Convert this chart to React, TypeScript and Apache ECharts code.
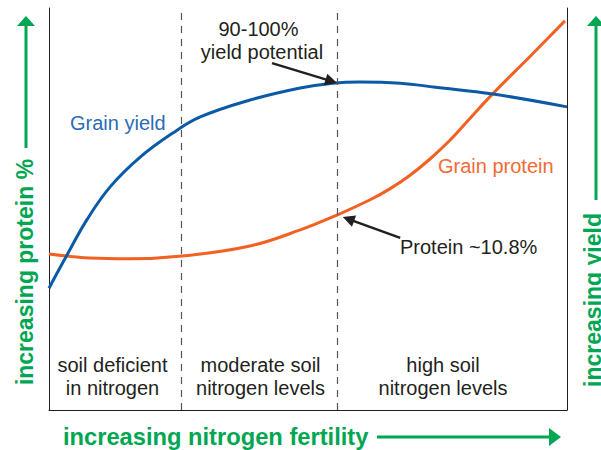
import React, { useEffect, useRef } from "react";
import * as echarts from "echarts";

// Nitrogen fertility (0-100, relative) and curve values (0-100, relative)
const yieldX = [0, 3.5, 7.3, 11.8, 17.6, 23.9, 29.2, 38.8, 48.5, 54.8, 60.0, 67.8, 74.6, 85.7, 100];
const yieldY = [30.3, 38.6, 47.3, 55.5, 62.9, 68.9, 72.9, 77.1, 80.1, 81.3, 81.6, 81.3, 80.3, 78.6, 75.4];

const proteinX = [0, 7.9, 15.6, 25.7, 38.8, 48.5, 55.6, 62.0, 65.8, 69.7, 73.6, 77.4, 81.3, 85.7, 92.9, 99.6];
const proteinY = [38.8, 37.8, 37.6, 38.3, 40.8, 44.8, 48.5, 52.3, 55.0, 58.4, 62.5, 67.1, 72.6, 78.7, 88.0, 96.8];

const zoneBoundaries = [25.6, 55.7];

// Annotation arrows: [from, to] in data units
const yieldArrow = [[43.05, 86.3], [54.5, 81.8]];
const proteinArrow = [[67.8, 42.8], [57.8, 47.5]];

const zoneLabels = [
  ["soil deficient", "in nitrogen"],
  ["moderate soil", "nitrogen levels"],
  ["high soil", "nitrogen levels"],
];
const seriesLabels = ["Grain yield", "Grain protein"];
const yieldNote = ["90-100%", "yield potential"];
const proteinNote = "Protein ~10.8%";
const axisTitles = {
  x: "increasing nitrogen fertility",
  left: "increasing protein %",
  right: "increasing yield",
};

const FONT = "'Liberation Sans', Arial, Helvetica, sans-serif";
const INK = "#231f20";
const GREEN = "#00a651";
const BLUE = "#0b5aa6";
const ORANGE = "#f26122";

export default function App() {
  const ref = useRef<HTMLDivElement>(null);

  useEffect(() => {
    if (!ref.current) return;
    const chart = echarts.init(ref.current, null, { renderer: "svg" });

    const txt = (text: string, x: number, y: number, opts: any = {}) => ({
      type: "text",
      x,
      y,
      rotation: opts.rotation || 0,
      silent: true,
      style: {
        text,
        fill: opts.fill || INK,
        font: `${opts.weight || "normal"} ${opts.size || 20}px ${FONT}`,
        textAlign: opts.align || "center",
        textVerticalAlign: "middle",
      },
    });

    const zoneCenters = [112.5, 260.5, 443];
    const graphics: any[] = [];
    zoneLabels.forEach((lines, i) => {
      graphics.push(txt(lines[0], zoneCenters[i], 365));
      graphics.push(txt(lines[1], zoneCenters[i], 388));
    });
    graphics.push(txt(seriesLabels[0], 70, 123, { fill: "#2a6cb6", align: "left" }));
    graphics.push(txt(seriesLabels[1], 438, 166, { fill: "#f26b35", align: "left" }));
    graphics.push(txt(yieldNote[0], 258.5, 29));
    graphics.push(txt(yieldNote[1], 262, 52));
    graphics.push(txt(proteinNote, 400, 247, { align: "left" }));

    // green axis titles and arrows
    graphics.push(txt(axisTitles.x, 63, 437, { fill: GREEN, weight: "bold", size: 23.7, align: "left" }));
    graphics.push(txt(axisTitles.left, 25, 272, { fill: GREEN, weight: "bold", size: 23, rotation: Math.PI / 2 }));
    graphics.push(txt(axisTitles.right, 593, 300, { fill: GREEN, weight: "bold", size: 23, rotation: Math.PI / 2 }));

    const greenLine = (x1: number, y1: number, x2: number, y2: number) => ({
      type: "line",
      silent: true,
      shape: { x1, y1, x2, y2 },
      style: { stroke: GREEN, lineWidth: 3 },
    });
    const greenHead = (points: number[][]) => ({
      type: "polygon",
      silent: true,
      shape: { points },
      style: { fill: GREEN },
    });
    graphics.push(greenLine(377, 437, 551, 437));
    graphics.push(greenHead([[549, 428], [561, 437], [549, 446]]));
    graphics.push(greenLine(26, 24, 26, 148));
    graphics.push(greenHead([[17, 26], [26, 16], [35, 26]]));
    graphics.push(greenLine(596, 24, 596, 200));
    graphics.push(greenHead([[587, 26], [596, 16], [605, 26]]));

    const option: any = {
      animation: false,
      grid: { left: 49, right: 34, top: 8, bottom: 40 },
      xAxis: {
        type: "value",
        min: 0,
        max: 100,
        axisLine: { show: true, onZero: false, lineStyle: { color: INK, width: 1 } },
        axisTick: { show: false },
        axisLabel: { show: false },
        splitLine: { show: false },
      },
      yAxis: [
        {
          type: "value",
          min: 0,
          max: 100,
          position: "left",
          axisLine: { show: true, onZero: false, lineStyle: { color: INK, width: 1 } },
          axisTick: { show: false },
          axisLabel: { show: false },
          splitLine: { show: false },
        },
        {
          type: "value",
          min: 0,
          max: 100,
          position: "right",
          axisLine: { show: true, onZero: false, lineStyle: { color: INK, width: 1 } },
          axisTick: { show: false },
          axisLabel: { show: false },
          splitLine: { show: false },
        },
      ],
      series: [
        {
          type: "line",
          name: seriesLabels[0],
          data: yieldX.map((x, i) => [x, yieldY[i]]),
          smooth: 0.4,
          showSymbol: false,
          lineStyle: { color: BLUE, width: 3 },
          z: 3,
          markLine: {
            silent: true,
            symbol: "none",
            label: { show: false },
            lineStyle: { color: "#555", width: 1.2, type: [7, 6] },
            data: zoneBoundaries.map((v) => ({ xAxis: v })),
          },
        },
        {
          type: "line",
          name: seriesLabels[1],
          data: proteinX.map((x, i) => [x, proteinY[i]]),
          smooth: 0.4,
          showSymbol: false,
          lineStyle: { color: ORANGE, width: 3 },
          z: 2,
          markLine: {
            silent: true,
            symbol: ["none", "triangle"],
            symbolSize: [12, 12],
            label: { show: false },
            lineStyle: { color: INK, width: 2.5, type: "solid" },
            itemStyle: { color: INK },
            data: [
              [{ coord: yieldArrow[0] }, { coord: yieldArrow[1] }],
              [{ coord: proteinArrow[0] }, { coord: proteinArrow[1] }],
            ],
          },
        },
      ],
      graphic: graphics,
    };

    chart.setOption(option);
    return () => chart.dispose();
  }, []);

  return (
    <div
      ref={ref}
      style={{ position: "absolute", left: 0, top: 0, width: 601, height: 450, background: "#fff" }}
    />
  );
}
